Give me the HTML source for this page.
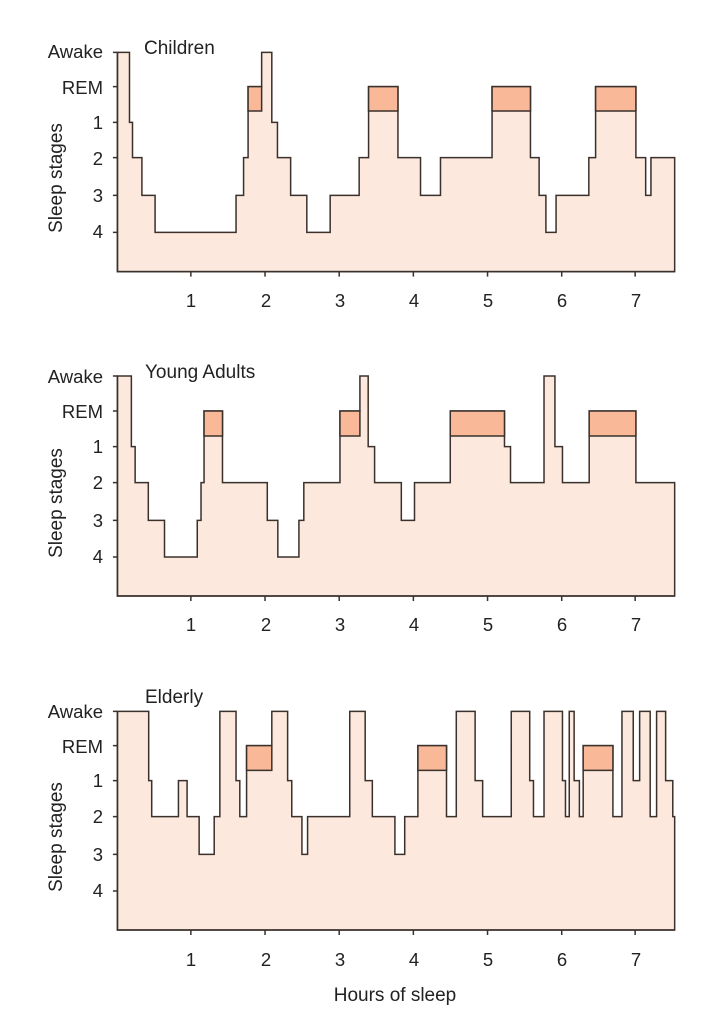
<!DOCTYPE html>
<html><head><meta charset="utf-8"><style>
body{margin:0;background:#fff;width:718px;height:1023px;overflow:hidden}
svg{display:block}
text{font-family:"Liberation Sans",sans-serif;fill:#222}
</style></head><body>
<svg width="718" height="1023" viewBox="0 0 718 1023">
<defs>
<style>
.s{fill:#fce8dc;stroke:#3a302c;stroke-width:1.5;vector-effect:non-scaling-stroke}
.r{fill:#f9b898;stroke:#3a302c;stroke-width:1.5;vector-effect:non-scaling-stroke}
.a{fill:none;stroke:#3a302c;stroke-width:1.5;vector-effect:non-scaling-stroke}
</style>
</defs>
<!-- Panel 1 -->
<g transform="translate(100.5,30) scale(0.3765,0.33333)">
<path class="s" d="M45,725 V67 H77 V277 H85 V383 H110 V496 H145 V607 H360 V496 H380 V383 H392 V170 H428 V67 H455 V277 H470 V383 H505 V496 H548 V607 H610 V496 H687 V383 H712 V170 H790 V383 H850 V496 H903 V383 H1040 V170 H1142 V383 H1165 V496 H1183 V607 H1210 V496 H1297 V383 H1315 V170 H1422 V383 H1448 V496 H1462 V383 H1525 V725 Z"/>
<rect class="r" x="392" y="170" width="36" height="73"/>
<rect class="r" x="712" y="170" width="78" height="73"/>
<rect class="r" x="1040" y="170" width="102" height="73"/>
<rect class="r" x="1315" y="170" width="107" height="73"/>
<path class="a" d="M45,67 V725 H1525 M33,67 H45 M33,170 H45 M33,277 H45 M33,383 H45 M33,496 H45 M33,607 H45 M240,725 V740 M437,725 V740 M634,725 V740 M831,725 V740 M1028,725 V740 M1225,725 V740 M1420,725 V740"/>
</g>
<!-- Panel 2 -->
<g transform="translate(100.5,360) scale(0.3765,0.33333)">
<path class="s" d="M45,708 V48 H82 V260 H92 V368 H127 V481 H170 V591 H257 V481 H267 V368 H275 V153 H324 V368 H443 V481 H471 V591 H527 V481 H540 V368 H636 V153 H689 V48 H711 V260 H728 V368 H799 V481 H834 V368 H929 V153 H1073 V260 H1089 V368 H1178 V48 H1207 V260 H1227 V368 H1298 V153 H1422 V368 H1525 V708 Z"/>
<rect class="r" x="275" y="153" width="49" height="75"/>
<rect class="r" x="636" y="153" width="53" height="75"/>
<rect class="r" x="929" y="153" width="144" height="75"/>
<rect class="r" x="1298" y="153" width="124" height="75"/>
<path class="a" d="M45,48 V708 H1525 M33,48 H45 M33,153 H45 M33,260 H45 M33,368 H45 M33,481 H45 M33,591 H45 M240,708 V723 M437,708 V723 M634,708 V723 M831,708 V723 M1028,708 V723 M1225,708 V723 M1420,708 V723"/>
</g>
<!-- Panel 3 -->
<g transform="translate(100.5,680) scale(0.3765,0.33333)">
<path class="s" d="M45,750 V94 H128 V302 H136 V410 H207 V302 H230 V410 H262 V523 H302 V410 H317 V94 H360 V302 H370 V410 H388 V197 H455 V94 H497 V302 H508 V410 H535 V523 H550 V410 H662 V94 H703 V302 H722 V410 H782 V523 H808 V410 H843 V197 H919 V410 H945 V94 H995 V302 H1015 V410 H1091 V94 H1140 V302 H1150 V410 H1178 V94 H1227 V302 H1235 V410 H1245 V94 H1258 V302 H1272 V410 H1282 V197 H1361 V410 H1385 V94 H1415 V302 H1432 V94 H1460 V410 H1477 V94 H1501 V302 H1520 V410 H1525 V750 Z"/>
<rect class="r" x="388" y="197" width="67" height="74"/>
<rect class="r" x="843" y="197" width="76" height="74"/>
<rect class="r" x="1282" y="197" width="79" height="74"/>
<path class="a" d="M45,94 V750 H1525 M33,94 H45 M33,197 H45 M33,302 H45 M33,410 H45 M33,523 H45 M33,633 H45 M240,750 V765 M437,750 V765 M634,750 V765 M831,750 V765 M1028,750 V765 M1225,750 V765 M1420,750 V765"/>
</g>

<g font-size="18.5">
<text x="144" y="54" font-size="19">Children</text>
<g text-anchor="end">
<text x="103" y="58">Awake</text><text x="103" y="94">REM</text><text x="103" y="129">1</text>
<text x="103" y="165">2</text><text x="103" y="202">3</text><text x="103" y="238">4</text>
</g>
<text transform="translate(62,178) rotate(-90)" text-anchor="middle" font-size="19">Sleep stages</text>
<g text-anchor="middle">
<text x="191" y="307">1</text><text x="266" y="307">2</text><text x="340" y="307">3</text><text x="414" y="307">4</text><text x="488" y="307">5</text><text x="562" y="307">6</text><text x="636" y="307">7</text>
</g>

<text x="145" y="378" font-size="19">Young Adults</text>
<g text-anchor="end">
<text x="103" y="383">Awake</text><text x="103" y="418">REM</text><text x="103" y="453">1</text>
<text x="103" y="489">2</text><text x="103" y="527">3</text><text x="103" y="563">4</text>
</g>
<text transform="translate(62,503) rotate(-90)" text-anchor="middle" font-size="19">Sleep stages</text>
<g text-anchor="middle">
<text x="191" y="631">1</text><text x="266" y="631">2</text><text x="340" y="631">3</text><text x="414" y="631">4</text><text x="488" y="631">5</text><text x="562" y="631">6</text><text x="636" y="631">7</text>
</g>

<text x="145" y="703" font-size="19">Elderly</text>
<g text-anchor="end">
<text x="103" y="718">Awake</text><text x="103" y="753">REM</text><text x="103" y="787">1</text>
<text x="103" y="823">2</text><text x="103" y="861">3</text><text x="103" y="897">4</text>
</g>
<text transform="translate(62,837) rotate(-90)" text-anchor="middle" font-size="19">Sleep stages</text>
<g text-anchor="middle">
<text x="191" y="966">1</text><text x="266" y="966">2</text><text x="340" y="966">3</text><text x="414" y="966">4</text><text x="488" y="966">5</text><text x="562" y="966">6</text><text x="636" y="966">7</text>
</g>
<text x="395" y="1001" text-anchor="middle" font-size="19">Hours of sleep</text>
</g>
</svg>
</body></html>
